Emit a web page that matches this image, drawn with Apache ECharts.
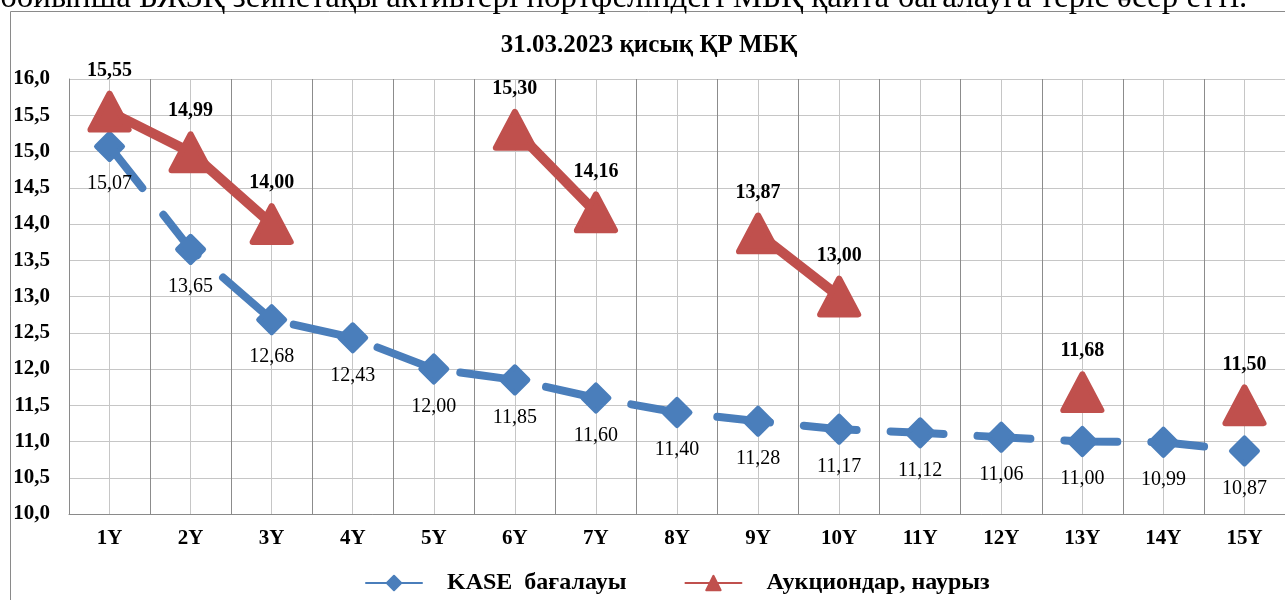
<!DOCTYPE html>
<html><head><meta charset="utf-8">
<script src="https://cdn.jsdelivr.net/npm/echarts@6/dist/echarts.min.js"></script>
<style>html,body{margin:0;padding:0;background:#fff;overflow:hidden}#c{width:1285px;height:600px}</style>
</head><body><div id="c"></div>
<script>
const categories = ['1Y','2Y','3Y','4Y','5Y','6Y','7Y','8Y','9Y','10Y','11Y','12Y','13Y','14Y','15Y'];
const kaseValues = [15.07,13.65,12.68,12.43,12.00,11.85,11.60,11.40,11.28,11.17,11.12,11.06,11.00,10.99,10.87];
const auctionValues = [15.55,14.99,14.00,null,null,15.30,14.16,null,13.87,13.00,null,null,11.68,null,11.50];
const seriesNames = ['KASE  бағалауы','Аукциондар, наурыз'];
const chartTitle = '31.03.2023 қисық ҚР МБҚ';
const bodyText = 'бойынша БЖЗҚ зейнетақы активтері портфеліндегі МБҚ қайта бағалауға теріс әсер етті.';
const yMin = 10, yMax = 16, yStep = 0.5;

const FONT = "'Times New Roman','Liberation Serif',serif";
const fmt = v => Number(v).toFixed(2).replace('.', ',');
const chart = echarts.init(document.getElementById('c'), null, {renderer:'canvas'});
chart.setOption({
  animation: false,
  backgroundColor: '#fff',
  graphic: [
    {type:'rect', shape:{x:10.5, y:11.5, width:1400, height:700}, style:{fill:'none', stroke:'#8a8a8a', lineWidth:1}, z:-10},
    {type:'text', x:0, y:-2, style:{text: bodyText, font: "33px " + FONT, fill:'#000', textVerticalAlign:'middle'}},
    {type:'text', x:649, y:46, style:{text: chartTitle, font: "bold 25px " + FONT, fill:'#000', textAlign:'center', textVerticalAlign:'middle'}}
  ],
  legend: {
    left: 360, top: 566,
    itemWidth: 56, itemHeight: 18, itemGap: 58,
    textStyle: {fontFamily: FONT, fontWeight:'bold', fontSize: 24, color:'#000', padding:[0,0,0,20]},
    lineStyle: {type:'solid'},
    data: seriesNames
  },
  grid: {left: 69, top: 79, width: 1217, height: 435, containLabel:false},
  xAxis: [
    {type:'category', data: categories, boundaryGap: true,
     axisLine:{show:true, lineStyle:{color:'#8a8a8a', width:1}},
     axisTick:{show:false},
     axisLabel:{margin:14, fontFamily:FONT, fontWeight:'bold', fontSize:21, color:'#000'},
     splitLine:{show:false}},
    {type:'value', min:0, max:15, interval:1, position:'bottom',
     axisLine:{show:false}, axisTick:{show:false}, axisLabel:{show:false},
     splitLine:{show:true, lineStyle:{color:'#8c8c8c', width:1}},
     minorTick:{show:false, splitNumber:2},
     minorSplitLine:{show:true, lineStyle:{color:'#c6c6c6', width:1}}}
  ],
  yAxis: {
    type:'value', min:yMin, max:yMax, interval:yStep,
    axisLine:{show:true, lineStyle:{color:'#8a8a8a', width:1}},
    axisTick:{show:false},
    axisLabel:{margin:19, fontFamily:FONT, fontWeight:'bold', fontSize:21, color:'#000', formatter: v => v.toFixed(1).replace('.', ',')},
    splitLine:{show:true, lineStyle:{color:'#c6c6c6', width:1}}
  },
  series: [
    {name: seriesNames[0], type:'line', xAxisIndex:0, data: kaseValues,
     symbol:'diamond', symbolSize:26,
     itemStyle:{color:'#4A7EBB', borderColor:'#4A7EBB', borderWidth:5, borderJoin:'round'},
     lineStyle:{width:8, color:'#4A7EBB', type:[53,34], cap:'round', dashOffset:0},
     label:{show:true, position:'bottom', distance:12, formatter: p => fmt(p.value), fontFamily:FONT, fontSize:20, color:'#000'},
     z:2},
    {name: seriesNames[1], type:'line', xAxisIndex:0, data: auctionValues, connectNulls:false,
     symbol:'triangle', symbolSize:[38,36],
     itemStyle:{color:'#C0504D', borderColor:'#C0504D', borderWidth:6, borderJoin:'round'},
     lineStyle:{width:10, color:'#C0504D', cap:'round', join:'round'},
     label:{show:true, position:'top', distance:10, formatter: p => fmt(p.value), fontFamily:FONT, fontWeight:'bold', fontSize:20, color:'#000'},
     z:3}
  ]
});
</script></body></html>
